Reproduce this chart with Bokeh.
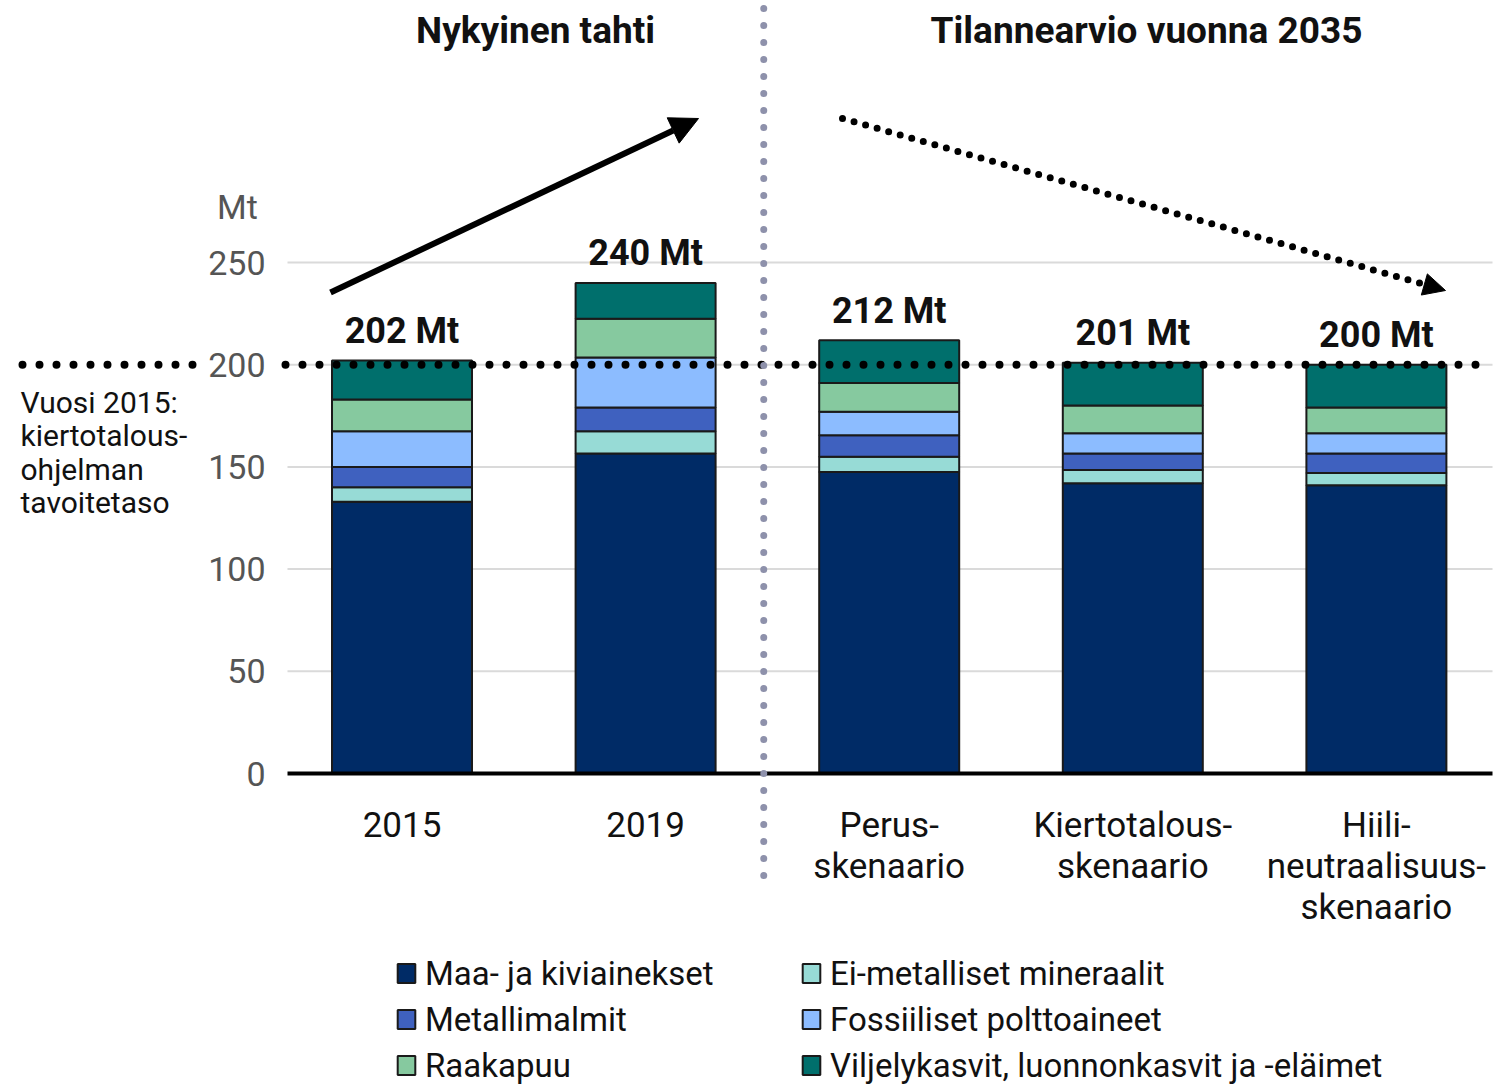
from bokeh.plotting import figure
from bokeh.models import Range1d, FixedTicker, Arrow, NormalHead, Legend, LegendItem
from bokeh.core.properties import value
from bokeh.embed import file_html
from bokeh.resources import INLINE

# ---------------- data ----------------
categories = ["2015", "2019", "Perus-\nskenaario", "Kiertotalous-\nskenaario",
              "Hiili-\nneutraalisuus-\nskenaario"]
total_labels = ["202 Mt", "240 Mt", "212 Mt", "201 Mt", "200 Mt"]
series_names = ["Maa- ja kiviainekset", "Ei-metalliset mineraalit", "Metallimalmit",
                "Fossiiliset polttoaineet", "Raakapuu",
                "Viljelykasvit, luonnonkasvit ja -eläimet"]
maa = [133, 156.5, 147.5, 142, 141]
ei_metalliset = [7, 11, 7.5, 6.5, 6]
metallimalmit = [10, 11.5, 10.5, 8, 9.5]
fossiiliset = [17.5, 24.5, 11.5, 10, 10]
raakapuu = [15.5, 19, 14, 13.5, 12.5]
viljely = [19, 17.5, 21, 21, 21]
y_ticks = [0, 50, 100, 150, 200, 250]
target_2015 = 200
title_left = "Nykyinen tahti"
title_right = "Tilannearvio vuonna 2035"
target_note = "Vuosi 2015:\nkiertotalous-\nohjelman\ntavoitetaso"
unit_label = "Mt"

colors = ["#002B66", "#97DBD6", "#3F61BF", "#8CBCFF", "#86C99F", "#006F6C"]
series = [maa, ei_metalliset, metallimalmit, fossiiliset, raakapuu, viljely]

FONT = "Roboto"
DARK = "#111111"
GREY = "#555555"

xs = list(range(len(categories)))
totals = [sum(s[i] for s in series) for i in xs]

# pixel-based geometry helpers (px per unit)
X_PER = 243.6
Y_PER = 2.044
X0_PX = 401.5
Y0_PX = 773
def dx(px):
    return (px - X0_PX) / X_PER
def dy(py):
    return (Y0_PX - py) / Y_PER

W, H = 1509, 1086
p = figure(width=W, height=H, x_range=Range1d(dx(0), dx(W)), y_range=Range1d(dy(H), dy(0)),
           output_backend="svg", toolbar_location=None, min_border=0,
           outline_line_color=None, background_fill_color="white")
p.grid.visible = False

x_left = dx(287)
x_right = dx(1492)

# grid lines
gy = [t for t in y_ticks if t > 0]
p.segment(x0=[x_left] * len(gy), y0=gy, x1=[x_right] * len(gy), y1=gy,
          line_color="#DADADA", line_width=2)

# stacked bars
bar_w = 140 / X_PER
renderers = []
bottom = [0.0] * len(xs)
for name, vals, col in zip(series_names, series, colors):
    top = [b + v for b, v in zip(bottom, vals)]
    r = p.vbar(x=xs, bottom=bottom, top=top, width=bar_w, fill_color=col,
               line_color="#1A1A1A", line_width=2)
    renderers.append(r)
    bottom = top

# target dotted line at 200
for a, b in [(dx(22), dx(200)), (dx(285), dx(1490))]:
    p.line(x=[a, b], y=[target_2015, target_2015], line_color="black", line_width=8,
           line_dash="0 17", line_cap="round")

# vertical separator
sep_x = (xs[1] + xs[2]) / 2 - 0.015
p.line(x=[sep_x, sep_x], y=[dy(8), dy(890)], line_color="#8E91AB", line_width=7,
       line_dash="0 17", line_cap="round", level="overlay")

# arrows
p.add_layout(Arrow(x_start=dx(330), y_start=dy(292), x_end=dx(698), y_end=dy(118),
                   line_width=6, line_color="black",
                   end=NormalHead(size=28, fill_color="black", line_color="black", line_width=1)))
p.add_layout(Arrow(x_start=dx(842), y_start=dy(118), x_end=dx(1445), y_end=dy(290),
                   line_width=7, line_color="black", line_dash="0 12", line_cap="round",
                   end=NormalHead(size=22, fill_color="black", line_color="black", line_width=1)))

# total labels
p.text(x=xs, y=[t + 14.5 for t in totals], text=total_labels, text_font=value(FONT),
       text_font_size="36px", text_font_style="bold", text_align="center",
       text_baseline="alphabetic", text_color=DARK)

# titles
p.text(x=[dx(535), dx(1146)], y=[dy(30), dy(30)], text=[title_left, title_right],
       text_font=value(FONT), text_font_size="37px", text_font_style="bold",
       text_align="center", text_baseline="alphabetic", text_color=DARK)

# unit label
p.text(x=[dx(237)], y=[dy(206)], text=[unit_label], text_font=value(FONT),
       text_font_size="34px", text_align="center", text_baseline="middle", text_color=GREY)

# target note
p.text(x=[dx(20)], y=[dy(384)], text=[target_note], text_font=value(FONT),
       text_font_size="30px", text_align="left", text_baseline="top", text_color=DARK,
       text_line_height=0.96)

# axes
xa = p.xaxis[0]
xa.fixed_location = 0
xa.bounds = (x_left, x_right)
xa.ticker = FixedTicker(ticks=xs)
xa.major_label_overrides = {i: c for i, c in zip(xs, categories)}
xa.axis_line_color = "black"
xa.axis_line_width = 4
xa.major_tick_line_color = None
xa.minor_tick_line_color = None
xa.major_label_standoff = 25
xa.major_label_text_font = FONT
xa.major_label_text_font_size = "35px"
xa.major_label_text_color = DARK
xa.major_label_text_line_height = 1.0

ya = p.yaxis[0]
ya.fixed_location = x_left
ya.ticker = FixedTicker(ticks=y_ticks)
ya.axis_line_color = None
ya.major_tick_line_color = None
ya.minor_tick_line_color = None
ya.major_label_standoff = 16
ya.major_label_text_font = FONT
ya.major_label_text_font_size = "34px"
ya.major_label_text_color = GREY

# legends (two columns)
def make_legend(idx, loc):
    items = [LegendItem(label=series_names[i], renderers=[renderers[i]]) for i in idx]
    lg = Legend(items=items, location=loc, orientation="vertical",
                glyph_width=22, glyph_height=24, label_standoff=8, label_height=46,
                spacing=0, padding=0, margin=0, border_line_color=None,
                background_fill_alpha=0, label_text_font=FONT,
                label_text_font_size="33px", label_text_color=DARK)
    p.add_layout(lg, "center")

make_legend([0, 2, 4], (395, -2))
make_legend([1, 3, 5], (800, -2))

open("out.html", "w").write(file_html(p, INLINE))
